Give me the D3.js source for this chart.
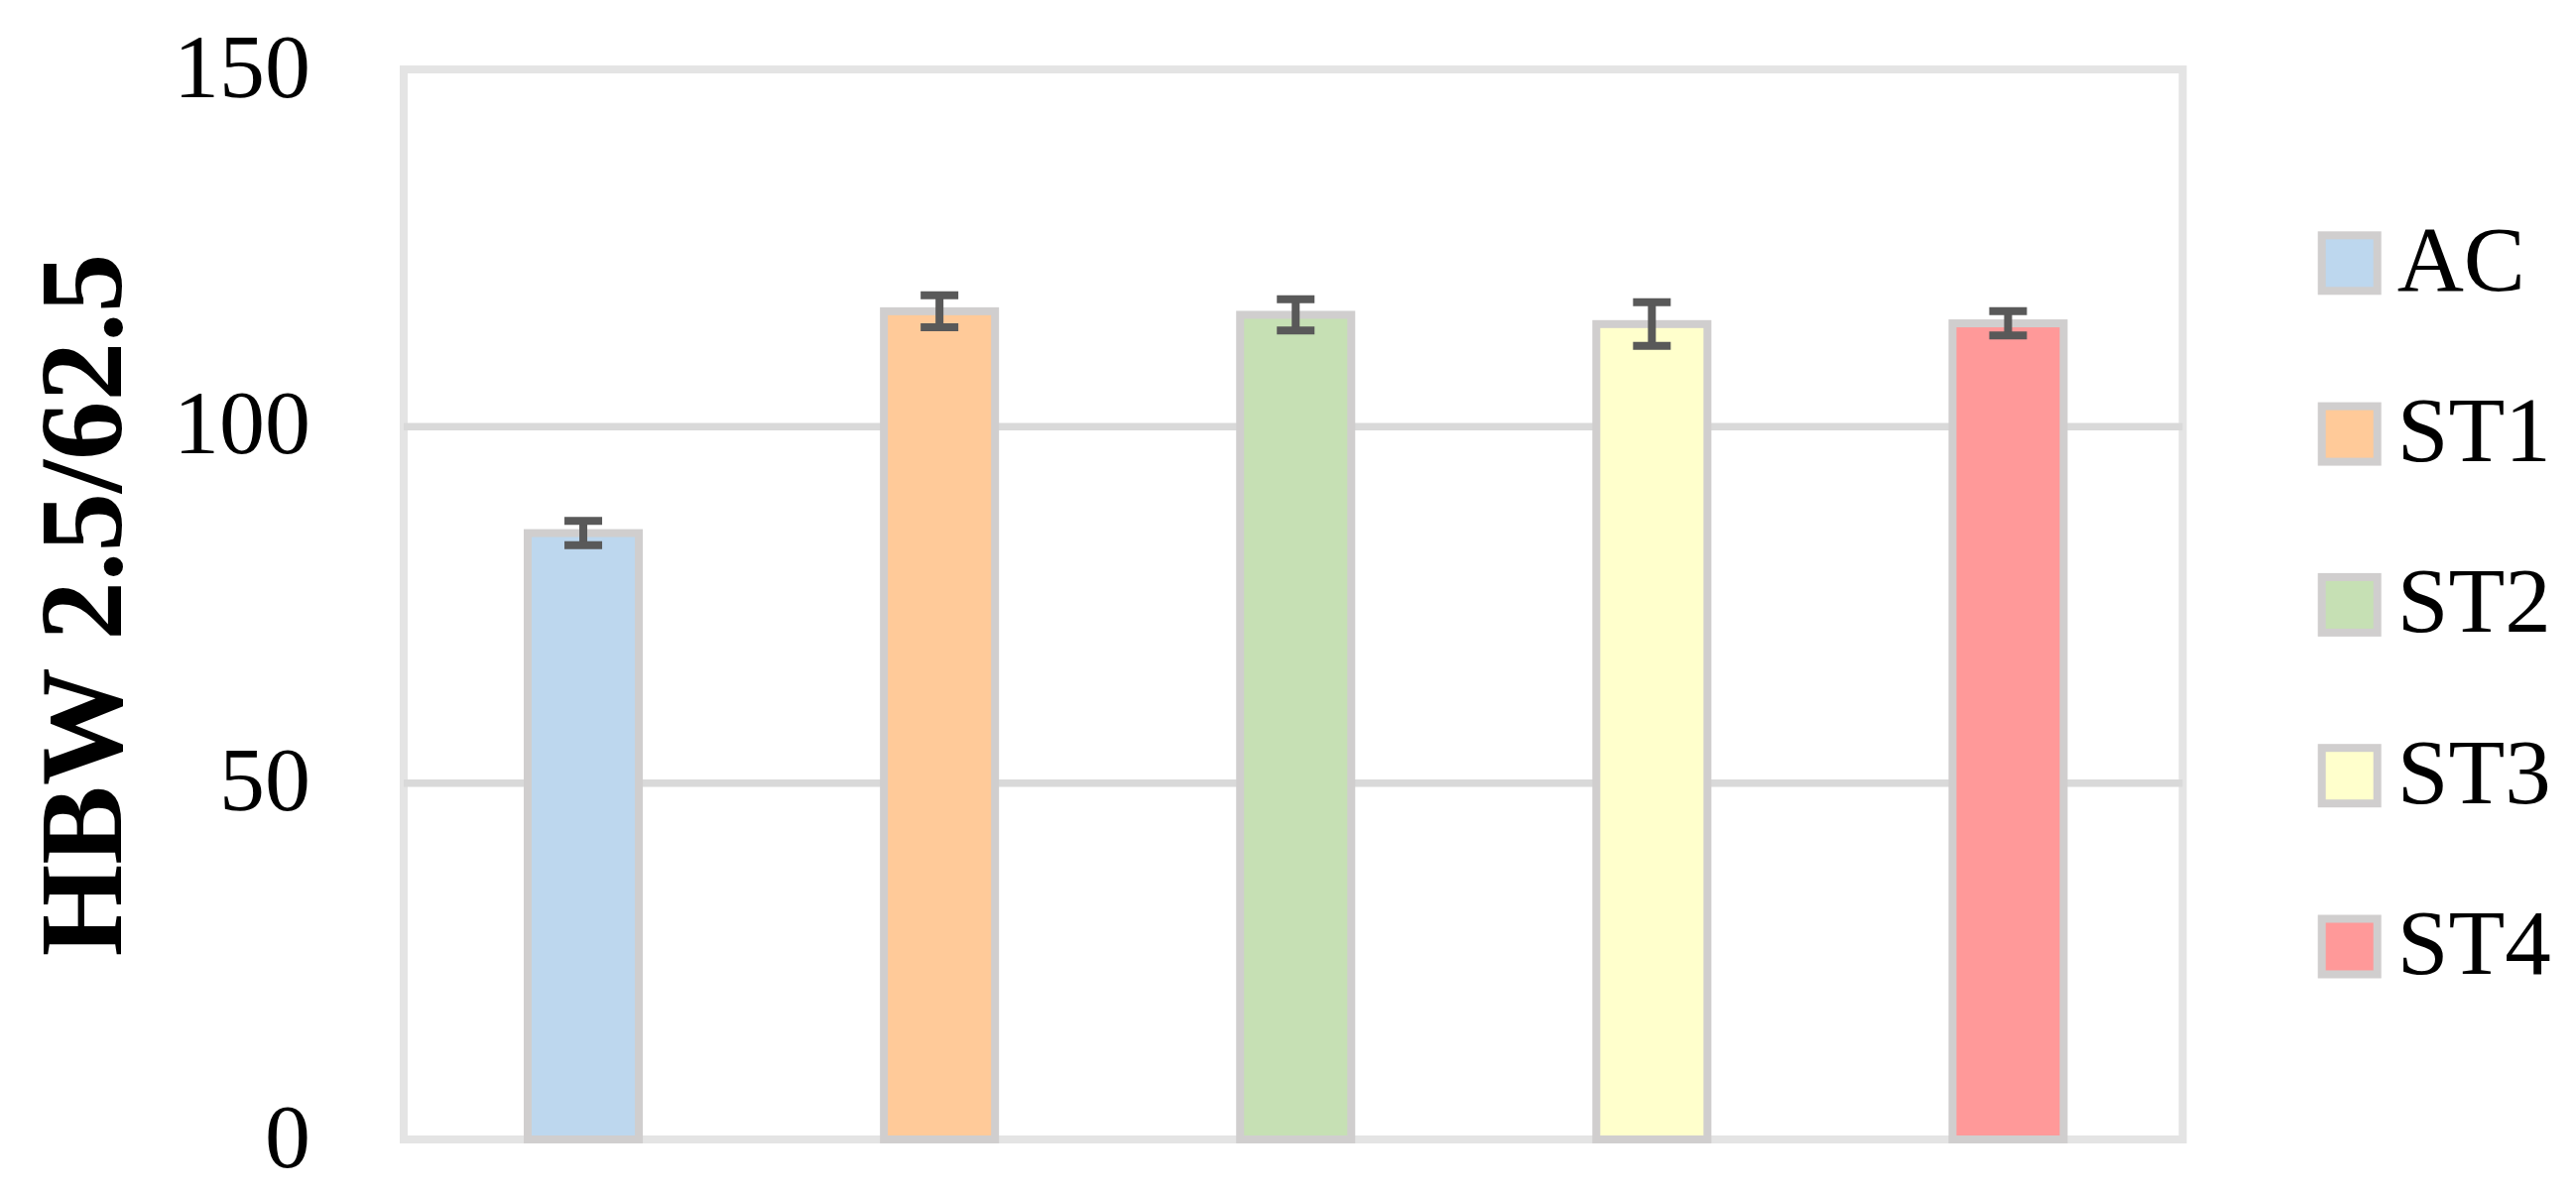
<!DOCTYPE html>
<html>
<head>
<meta charset="utf-8">
<script src="https://cdn.jsdelivr.net/npm/d3@7"></script>
<style>
  body { margin: 0; background: #ffffff; }
  svg { display: block; }
</style>
</head>
<body>
<div id="chart"></div>
<script>
// data
const categories = ["AC", "ST1", "ST2", "ST3", "ST4"];
const hbwValues = [85.0, 116.1, 115.6, 114.3, 114.4];
const hbwErrors = [1.7, 2.25, 2.2, 3.05, 1.7];
const barColors = ["#BDD7EE", "#FFCA99", "#C6E0B4", "#FFFFCC", "#FF9999"];
const yTicks = [0, 50, 100, 150];
const yLabel = "HBW 2.5/62.5";

const ctx = {
    width: 2597,
    height: 1203,
    left: 408.5,
    right: 2204,
    top: 70,
    bottom: 1149,
    font: "'Liberation Serif', 'DejaVu Serif', serif"
};

function createViz() {
    let svg = d3.select("#chart").append("svg")
        .attr("width", ctx.width)
        .attr("height", ctx.height);

    svg.append("rect")
        .attr("width", ctx.width)
        .attr("height", ctx.height)
        .attr("fill", "#ffffff");

    let x = d3.scaleBand()
        .domain(categories)
        .range([ctx.left, ctx.right])
        .paddingInner(0.688)
        .paddingOuter(0.344);

    let y = d3.scaleLinear()
        .domain([0, 150])
        .range([ctx.bottom, ctx.top]);

    // plot area frame
    svg.append("rect")
        .attr("x", ctx.left - 1.5)
        .attr("y", ctx.top)
        .attr("width", ctx.right - ctx.left - 2)
        .attr("height", ctx.bottom - ctx.top)
        .attr("fill", "none")
        .attr("stroke", "#E4E4E4")
        .attr("stroke-width", 8);

    // gridlines
    let grid = svg.append("g")
        .attr("transform", `translate(${ctx.left - 1.5},0)`)
        .call(d3.axisLeft(y).tickValues([50, 100]).tickSize(-(ctx.right - ctx.left - 2)).tickFormat(""));
    grid.select(".domain").remove();
    grid.selectAll("line").attr("stroke", "#D9D9D9").attr("stroke-width", 7.5);

    // y axis labels
    let axis = svg.append("g")
        .attr("transform", "translate(313,0)")
        .call(d3.axisLeft(y).tickValues(yTicks).tickSize(0).tickPadding(0));
    axis.select(".domain").remove();
    axis.selectAll("text")
        .attr("dy", null)
        .attr("y", 27)
        .style("font-family", ctx.font)
        .style("font-size", "92px")
        .attr("fill", "#000000");

    // axis title
    svg.append("text")
        .attr("transform", "translate(122,610) rotate(-90)")
        .attr("text-anchor", "middle")
        .style("font-family", ctx.font)
        .style("font-size", "119px")
        .style("font-weight", "bold")
        .attr("fill", "#000000")
        .text(yLabel);

    // bars
    let bw = x.bandwidth();
    svg.selectAll(".bar")
        .data(categories)
        .enter().append("rect")
        .attr("class", "bar")
        .attr("x", d => x(d))
        .attr("y", (d, i) => y(hbwValues[i]))
        .attr("width", bw)
        .attr("height", (d, i) => y(0) - y(hbwValues[i]))
        .attr("fill", (d, i) => barColors[i])
        .attr("stroke", "#D0CECE")
        .attr("stroke-width", 8);

    // error bars
    let capW = 38;
    let err = svg.selectAll(".err")
        .data(categories)
        .enter().append("g")
        .attr("class", "err")
        .attr("stroke", "#595959")
        .attr("stroke-width", 8);

    err.append("line")
        .attr("x1", d => x(d) + bw / 2)
        .attr("x2", d => x(d) + bw / 2)
        .attr("y1", (d, i) => y(hbwValues[i] + hbwErrors[i]))
        .attr("y2", (d, i) => y(hbwValues[i] - hbwErrors[i]));
    err.append("line")
        .attr("x1", d => x(d) + bw / 2 - capW / 2)
        .attr("x2", d => x(d) + bw / 2 + capW / 2)
        .attr("y1", (d, i) => y(hbwValues[i] + hbwErrors[i]))
        .attr("y2", (d, i) => y(hbwValues[i] + hbwErrors[i]));
    err.append("line")
        .attr("x1", d => x(d) + bw / 2 - capW / 2)
        .attr("x2", d => x(d) + bw / 2 + capW / 2)
        .attr("y1", (d, i) => y(hbwValues[i] - hbwErrors[i]))
        .attr("y2", (d, i) => y(hbwValues[i] - hbwErrors[i]));

    // legend
    let ly = d3.scalePoint()
        .domain(categories)
        .range([265.3, 954.5]);

    let legend = svg.selectAll(".legend")
        .data(categories)
        .enter().append("g")
        .attr("class", "legend")
        .attr("transform", d => `translate(2368.7,${ly(d)})`);

    legend.append("rect")
        .attr("x", -28)
        .attr("y", -28)
        .attr("width", 56)
        .attr("height", 56)
        .attr("fill", (d, i) => barColors[i])
        .attr("stroke", "#D0CECE")
        .attr("stroke-width", 8);

    legend.append("text")
        .attr("x", 48)
        .attr("y", 27.5)
        .style("font-family", ctx.font)
        .style("font-size", "93px")
        .attr("fill", "#000000")
        .text(d => d);
}

createViz();
</script>
</body>
</html>
